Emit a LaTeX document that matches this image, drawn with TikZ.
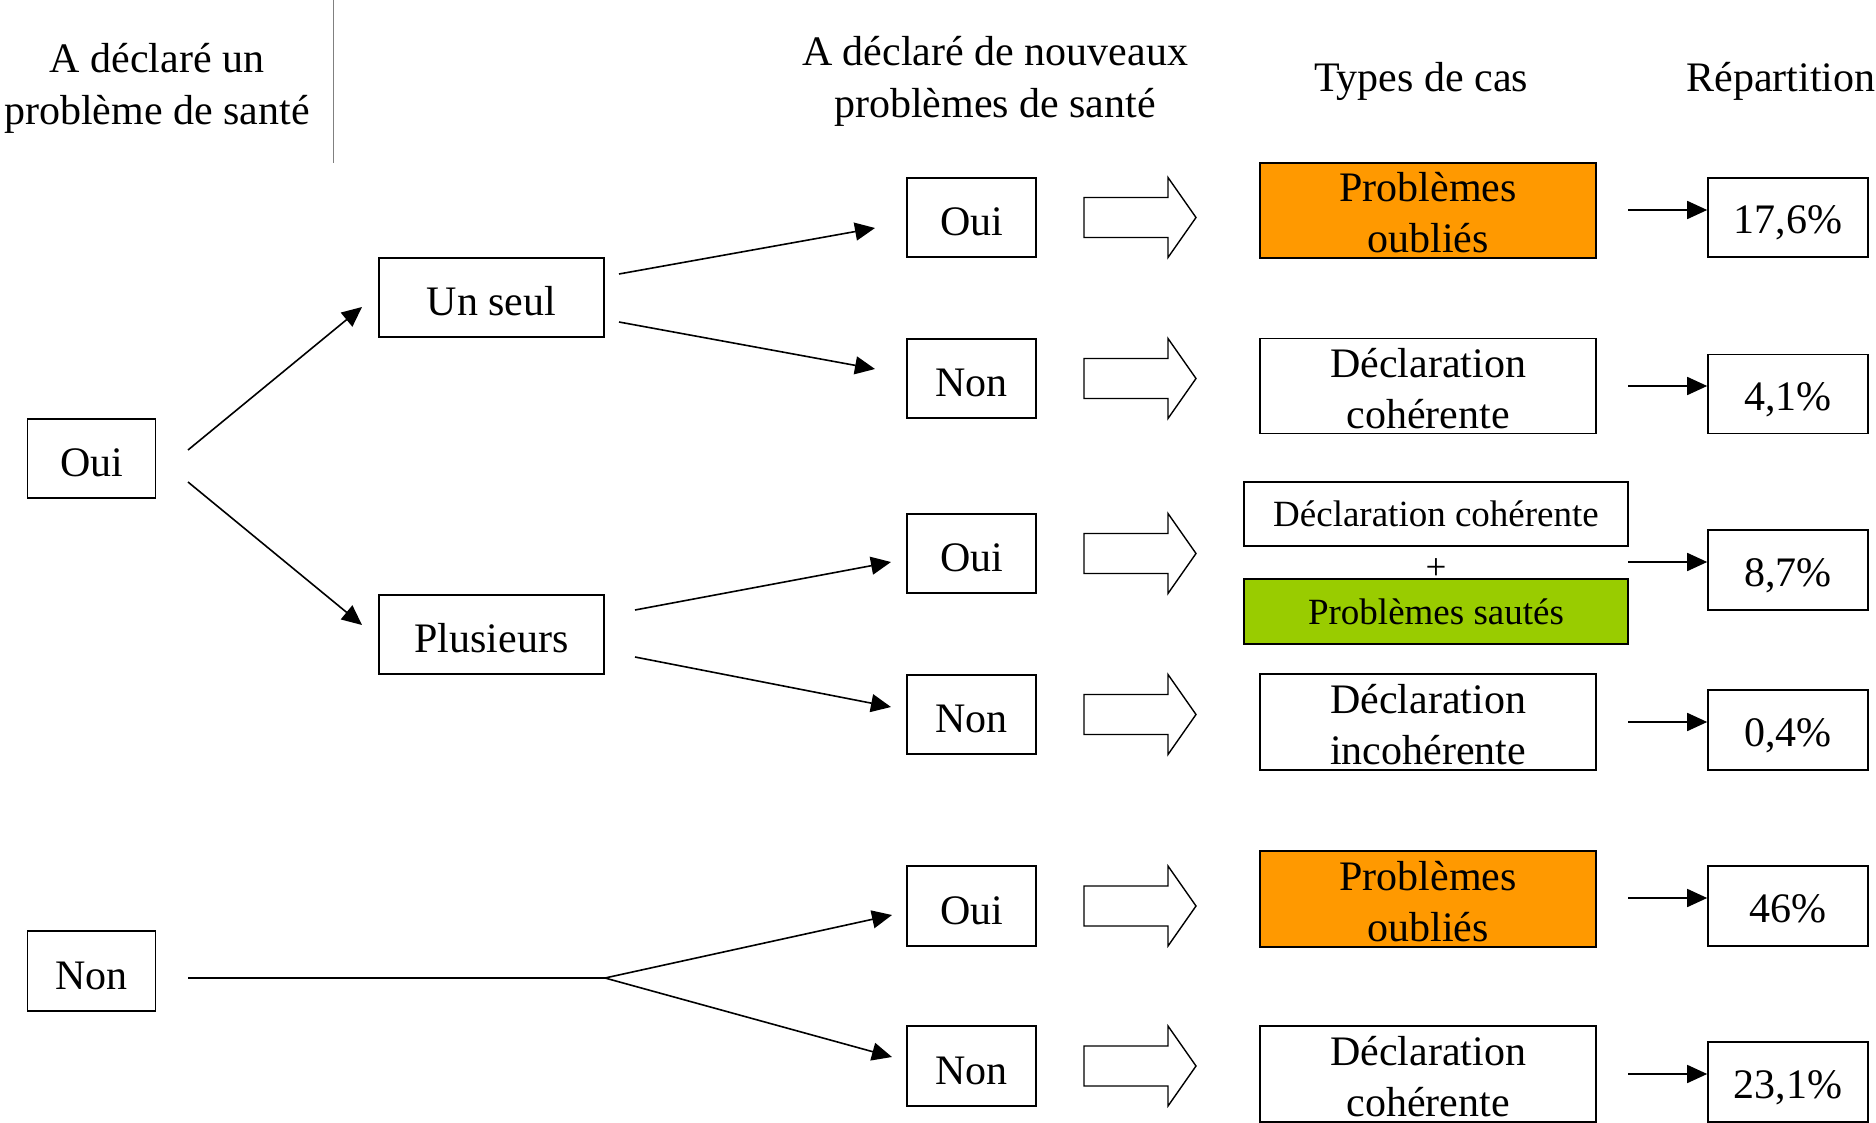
\documentclass[tikz,border=0pt]{standalone}
\usepackage{fontspec}
\setmainfont{Liberation Serif}
\usetikzlibrary{arrows.meta}
\definecolor{orangebox}{RGB}{255,153,0}
\definecolor{greenbox}{RGB}{153,204,0}
\begin{document}
\begin{tikzpicture}[x=1pt,y=-1pt,
  txt/.style={inner sep=0pt, align=center, font=\fontsize{42}{52}\selectfont},
  boxtxt/.style={inner sep=0pt, align=center, font=\fontsize{42}{51}\selectfont},
  smalltxt/.style={inner sep=0pt, align=center, font=\fontsize{37}{44}\selectfont},
  box/.style={txt, draw, line width=1.6pt},
  single/.style={box, text height=36pt, text depth=0pt},
  choice/.style={single, minimum width=129pt, minimum height=79pt},
  casebox/.style={draw, line width=1.6pt, inner sep=0pt, minimum width=336pt, minimum height=95pt},
  pctbox/.style={box, text height=32pt, text depth=0pt, minimum width=160pt, minimum height=80pt},
  thinbox/.style={smalltxt, draw, line width=1.6pt, minimum width=384pt, minimum height=64pt},
  arr/.style={line width=1.6pt, -{Triangle[length=20pt,width=18pt]}},
  link/.style={line width=1.6pt},
  blockarrow/.style={draw, line width=1.4pt, fill=white}
]
\useasboundingbox (0,0) rectangle (1876,1123);

% headers
\node[txt] (h1) at (157,88) {A déclaré un\\problème de santé};
\draw[gray, line width=1pt] (333,0) coordinate (sepTop) -- (333,163) coordinate (sepBot);
\node[txt] (h2) at (995,81) {A déclaré de nouveaux\\problèmes de santé};
\node[txt] (h3) at (1421,81) {Types de cas};
\node[txt] (h4) at (1781,81) {Répartition};

% first level
\node[single, minimum width=128pt, minimum height=79pt] (ouiL) at (91.5,458.5) {Oui};
\node[single, minimum width=128pt, minimum height=80pt] (nonL) at (91.5,971) {Non};

% second level
\node[single, minimum width=225pt, minimum height=79pt] (unseul) at (491.5,297.5) {Un seul};
\node[single, minimum width=225pt, minimum height=79pt] (plus) at (491.5,634.5) {Plusieurs};

% third level
\node[choice] (o1) at (971.5,217.5) {Oui};
\node[choice] (n1) at (971.5,378.5) {Non};
\node[choice] (o2) at (971.5,553.5) {Oui};
\node[choice] (n2) at (971.5,714.5) {Non};
\node[choice, minimum height=80pt] (o3) at (971.5,906) {Oui};
\node[choice, minimum height=80pt] (n3) at (971.5,1066) {Non};

% types de cas
\node[casebox, fill=orangebox] (t1) at (1428,210.5) {};
\node[boxtxt] (t1txt) at ([yshift=-2.5pt]t1.center) {Problèmes\\oubliés};
\node[casebox] (t2) at (1428,386) {};
\node[boxtxt] (t2txt) at ([yshift=-2.5pt]t2.center) {Déclaration\\cohérente};
\node[thinbox] (t3a) at (1436,514) {Déclaration cohérente};
\node[thinbox, fill=greenbox, minimum height=65pt] (t3b) at (1436,611.5) {Problèmes sautés};
\node[smalltxt] (plussign) at (1436,569) {+};
\node[casebox, minimum height=96pt] (t4) at (1428,722) {};
\node[boxtxt] (t4txt) at ([yshift=-2.5pt]t4.center) {Déclaration\\incohérente};
\node[casebox, minimum height=96pt, fill=orangebox] (t5) at (1428,899) {};
\node[boxtxt] (t5txt) at ([yshift=-2.5pt]t5.center) {Problèmes\\oubliés};
\node[casebox, minimum height=96pt] (t6) at (1428,1074) {};
\node[boxtxt] (t6txt) at ([yshift=-2.5pt]t6.center) {Déclaration\\cohérente};

% percentages
\node[pctbox, minimum height=79pt] (p1) at (1788,217.5) {17,6\%};
\node[pctbox, minimum height=79pt] (p2) at (1788,394) {4,1\%};
\node[pctbox] (p3) at (1788,570) {8,7\%};
\node[pctbox] (p4) at (1788,730) {0,4\%};
\node[pctbox] (p5) at (1788,906) {46\%};
\node[pctbox] (p6) at (1788,1082) {23,1\%};

% tree connectors
\coordinate (a1s) at (188,450);  \coordinate (a1e) at (362,307);
\coordinate (a2s) at (188,482);  \coordinate (a2e) at (362,625);
\coordinate (b1s) at (619,274);  \coordinate (b1e) at (875,228);
\coordinate (b2s) at (619,322);  \coordinate (b2e) at (875,369);
\coordinate (c1s) at (635,610);  \coordinate (c1e) at (891,562);
\coordinate (c2s) at (635,657);  \coordinate (c2e) at (891,707);
\coordinate (d0) at (188,978);   \coordinate (dfork) at (605,978);
\coordinate (d1e) at (892,915);  \coordinate (d2e) at (892,1057);

\draw[arr] (a1s) -- (a1e);
\draw[arr] (a2s) -- (a2e);
\draw[arr] (b1s) -- (b1e);
\draw[arr] (b2s) -- (b2e);
\draw[arr] (c1s) -- (c1e);
\draw[arr] (c2s) -- (c2e);
\draw[link] (d0) -- (dfork);
\draw[arr] (dfork) -- (d1e);
\draw[arr] (dfork) -- (d2e);

% block arrows
\foreach \yy in {217.5,378.5,553.5,714.5,906,1066}{
  \draw[blockarrow] (1084,\yy-20) -- (1168,\yy-20) -- (1168,\yy-40) -- (1196,\yy)
    -- (1168,\yy+40) -- (1168,\yy+20) -- (1084,\yy+20) -- cycle;
}

% arrows to percentages
\coordinate (s1) at (1628,210);
\coordinate (s2) at (1628,386);
\coordinate (s3) at (1628,562);
\coordinate (s4) at (1628,722);
\coordinate (s5) at (1628,898);
\coordinate (s6) at (1628,1074);
\draw[arr] (s1) -- (s1 -| p1.west);
\draw[arr] (s2) -- (s2 -| p2.west);
\draw[arr] (s3) -- (s3 -| p3.west);
\draw[arr] (s4) -- (s4 -| p4.west);
\draw[arr] (s5) -- (s5 -| p5.west);
\draw[arr] (s6) -- (s6 -| p6.west);
\end{tikzpicture}
\end{document}
